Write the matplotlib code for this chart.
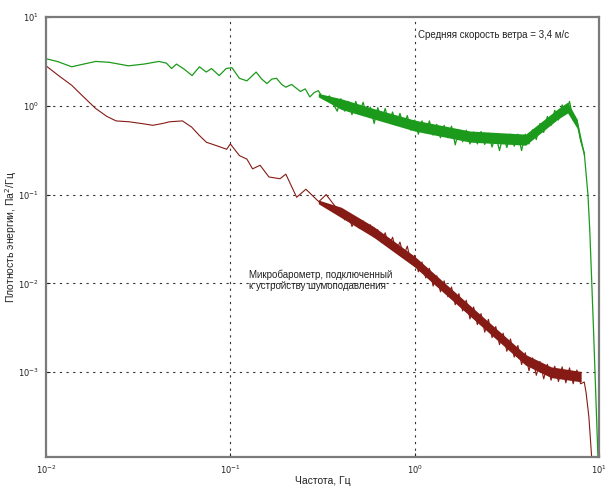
import matplotlib
matplotlib.use("Agg")
import matplotlib.pyplot as plt

plt.rcParams['font.family'] = ['Liberation Sans', 'DejaVu Sans']

# ---- data ----
# Green: wind noise spectrum (mean wind speed 3.4 m/s)
green_freq = [0.010, 0.0115, 0.0138, 0.016, 0.0186, 0.022, 0.028, 0.034, 0.041, 0.045,
              0.048, 0.051, 0.056, 0.062, 0.068, 0.074, 0.079, 0.087, 0.095, 0.102,
              0.112, 0.123, 0.138, 0.148, 0.158, 0.168, 0.178, 0.19, 0.20, 0.215,
              0.24, 0.255, 0.27, 0.285, 0.30, 0.32, 0.345, 0.36, 0.38,
              0.398, 0.417, 0.437, 0.457, 0.479, 0.501, 0.525, 0.550, 0.575, 0.603,
              0.631, 0.661, 0.692, 0.724, 0.759, 0.794, 0.832, 0.871, 0.912, 0.955,
              1.0, 1.047, 1.096, 1.148, 1.202, 1.259, 1.318, 1.380, 1.445, 1.514,
              1.585, 1.660, 1.738, 1.820, 1.905, 1.995, 2.089, 2.188, 2.291, 2.399,
              2.512, 2.630, 2.754, 2.884, 3.020, 3.162, 3.311, 3.467, 3.631, 3.802,
              3.981, 4.169, 4.365, 4.571, 4.786, 5.012, 5.248, 5.495, 5.754, 6.026,
              6.310, 6.607, 6.918, 7.244, 7.586, 7.943, 8.318,
              8.71, 8.91, 9.12, 9.33, 9.55, 9.77, 9.89]
green_psd = [3.39, 3.16, 2.75, 2.95, 3.16, 3.09, 2.82, 2.95, 3.16, 3.02,
             2.63, 2.95, 2.60, 2.19, 2.75, 2.40, 2.63, 2.19, 2.63, 2.69,
             2.04, 1.91, 2.40, 2.00, 1.78, 2.00, 2.04, 1.74, 1.62, 1.74,
             1.45, 1.55, 1.26, 1.41, 1.48, 1.20, 1.29, 1.07, 0.87,
             1.202, 0.871, 1.122, 0.794, 1.122, 0.832, 1.096, 0.776, 0.966, 0.631,
             0.955, 0.692, 0.933, 0.646, 0.851, 0.603, 0.822, 0.589, 0.776, 0.531,
             0.692, 0.479, 0.676, 0.495, 0.676, 0.468, 0.617, 0.437, 0.603, 0.437,
             0.589, 0.363, 0.537, 0.394, 0.531, 0.372, 0.507, 0.372, 0.513, 0.367,
             0.490, 0.343, 0.468, 0.313, 0.468, 0.339, 0.479, 0.351, 0.479, 0.313,
             0.479, 0.372, 0.537, 0.417, 0.631, 0.501, 0.759, 0.603, 0.891, 0.692,
             1.023, 0.832, 1.122, 0.692, 0.692, 0.407, 0.295,
             0.10, 0.040, 0.0112, 0.00316, 0.00079, 0.0002, 0.0001]
# solid core of the noisy green band
green_band_freq = [0.3, 0.4, 0.6, 1.0, 2.0, 4.0, 6.0, 6.76, 7.6, 8.3]
green_band_lo = [1.26, 0.91, 0.71, 0.52, 0.39, 0.36, 0.71, 0.83, 0.56, 0.26]
green_band_hi = [1.38, 1.20, 0.93, 0.69, 0.52, 0.48, 0.93, 1.10, 0.71, 0.30]

# Brown: microbarometer with noise-reducing device
brown_freq = [0.010, 0.0117, 0.0138, 0.0158, 0.0186, 0.0214, 0.024, 0.0282, 0.0331, 0.038,
              0.0427, 0.0468, 0.055, 0.0617, 0.0676, 0.0741, 0.0871, 0.0955, 0.100, 0.112,
              0.123, 0.132, 0.145, 0.162, 0.186, 0.200, 0.229, 0.257, 0.302, 0.331,
              0.389,
              0.398, 0.417, 0.437, 0.457, 0.479, 0.501, 0.525, 0.550, 0.575, 0.603,
              0.631, 0.661, 0.692, 0.724, 0.759, 0.794, 0.832, 0.871, 0.912, 0.955,
              1.0, 1.047, 1.096, 1.148, 1.202, 1.259, 1.318, 1.380, 1.445, 1.514,
              1.585, 1.660, 1.738, 1.820, 1.905, 1.995, 2.089, 2.188, 2.291, 2.399,
              2.512, 2.630, 2.754, 2.884, 3.020, 3.162, 3.311, 3.467, 3.631, 3.802,
              3.981, 4.169, 4.365, 4.571, 4.786, 5.012, 5.248, 5.495, 5.754, 6.026,
              6.310, 6.607, 6.918, 7.244, 7.586, 7.943, 8.318,
              8.51, 8.81, 9.12]
brown_psd = [2.82, 2.19, 1.70, 1.29, 0.933, 0.759, 0.676, 0.661, 0.631, 0.603,
             0.631, 0.661, 0.676, 0.575, 0.468, 0.389, 0.347, 0.324, 0.372, 0.275,
             0.251, 0.195, 0.214, 0.158, 0.151, 0.170, 0.0933, 0.115, 0.0832, 0.100,
             0.0646,
             0.0692, 0.0519, 0.0589, 0.0437, 0.0537, 0.0417, 0.0507, 0.0380, 0.0457, 0.0331,
             0.0403, 0.0288, 0.0372, 0.0263, 0.0331, 0.0229, 0.0292, 0.0204, 0.0263, 0.0170,
             0.0207, 0.0135, 0.0174, 0.0115, 0.0148, 0.00933, 0.0122, 0.00804, 0.0107, 0.00708,
             0.00912, 0.00575, 0.00767, 0.00490, 0.00646, 0.00398, 0.00543, 0.00343, 0.00457, 0.00282,
             0.00394, 0.00245, 0.00327, 0.00204, 0.00275, 0.00172, 0.00237, 0.00148, 0.00200, 0.00122,
             0.00166, 0.00104, 0.00145, 0.000923, 0.00132, 0.000841, 0.00123, 0.000813, 0.00117, 0.000785,
             0.00115, 0.000759, 0.00112, 0.000741, 0.00106, 0.000741, 0.000776,
             0.000589, 0.000316, 0.000112]
# solid core of the noisy brown band
brown_band_freq = [0.3, 0.4, 0.6, 1.0, 2.0, 4.0, 5.5, 8.0]
brown_band_lo = [0.079, 0.055, 0.033, 0.0153, 0.00427, 0.00120, 0.00087, 0.00078]
brown_band_hi = [0.087, 0.072, 0.0436, 0.0202, 0.00563, 0.00158, 0.00115, 0.00102]

x_ticks = [0.01, 0.1, 1, 10]
x_tick_labels = [r'$10^{-2}$', r'$10^{-1}$', r'$10^{0}$', r'$10^{1}$']
y_ticks = [0.001, 0.01, 0.1, 1, 10]
y_tick_labels = [r'$10^{-3}$', r'$10^{-2}$', r'$10^{-1}$', r'$10^{0}$', r'$10^{1}$']

GREEN = '#1c9a1c'
BROWN = '#861a14'

fig = plt.figure(figsize=(6.1, 4.9), dpi=100)
fig.patch.set_facecolor('white')
ax = fig.add_axes([46/610, 1-457/490, (599-46)/610, (457-17)/490])
ax.set_xscale('log')
ax.set_yscale('log')
ax.set_xlim(0.01, 10)
ax.set_ylim(1.11e-4, 10)

ax.fill_between(green_band_freq, green_band_lo, green_band_hi, color=GREEN, lw=0)
ax.plot(green_freq, green_psd, color=GREEN, lw=0.9)
ax.fill_between(brown_band_freq, brown_band_lo, brown_band_hi, color=BROWN, lw=0)
ax.plot(brown_freq, brown_psd, color=BROWN, lw=0.8)

ax.set_xticks(x_ticks)
ax.set_xticklabels(x_tick_labels)
ax.set_yticks(y_ticks)
ax.set_yticklabels(y_tick_labels)
ax.minorticks_off()
ax.tick_params(direction='in', length=3, width=0.8, labelsize=6, colors='#222222',
               pad=5)
for s in ax.spines.values():
    s.set_color('#7a7a7a')
    s.set_linewidth(1.6)

for xv in [0.1, 1]:
    ax.axvline(xv, color='#333333', lw=0.8, ls=(0, (2, 4)), zorder=0.5)
for yv in [0.001, 0.01, 0.1, 1]:
    ax.axhline(yv, color='#333333', lw=0.8, ls=(0, (2, 4)), zorder=0.5)

ax.text(1.04, 6.3, 'Средняя скорость ветра = 3,4 м/с', fontsize=7, va='center',
        ha='left', color='#222222')
ax.text(0.127, 0.0108, 'Микробарометр, подключенный\nк устройству шумоподавления',
        fontsize=7, va='center', ha='left', color='#222222', linespacing=1.1)

ax.set_xlabel('Частота, Гц', fontsize=7.5, color='#222222', va='center')
ax.xaxis.set_label_coords(0.5, (457-481)/440)
ax.set_ylabel('Плотность энергии, Па$^2$/Гц', fontsize=7.5, color='#222222', va='center')
ax.yaxis.set_label_coords((11-46)/553, 0.5)

fig.savefig('out.png', dpi=100)
